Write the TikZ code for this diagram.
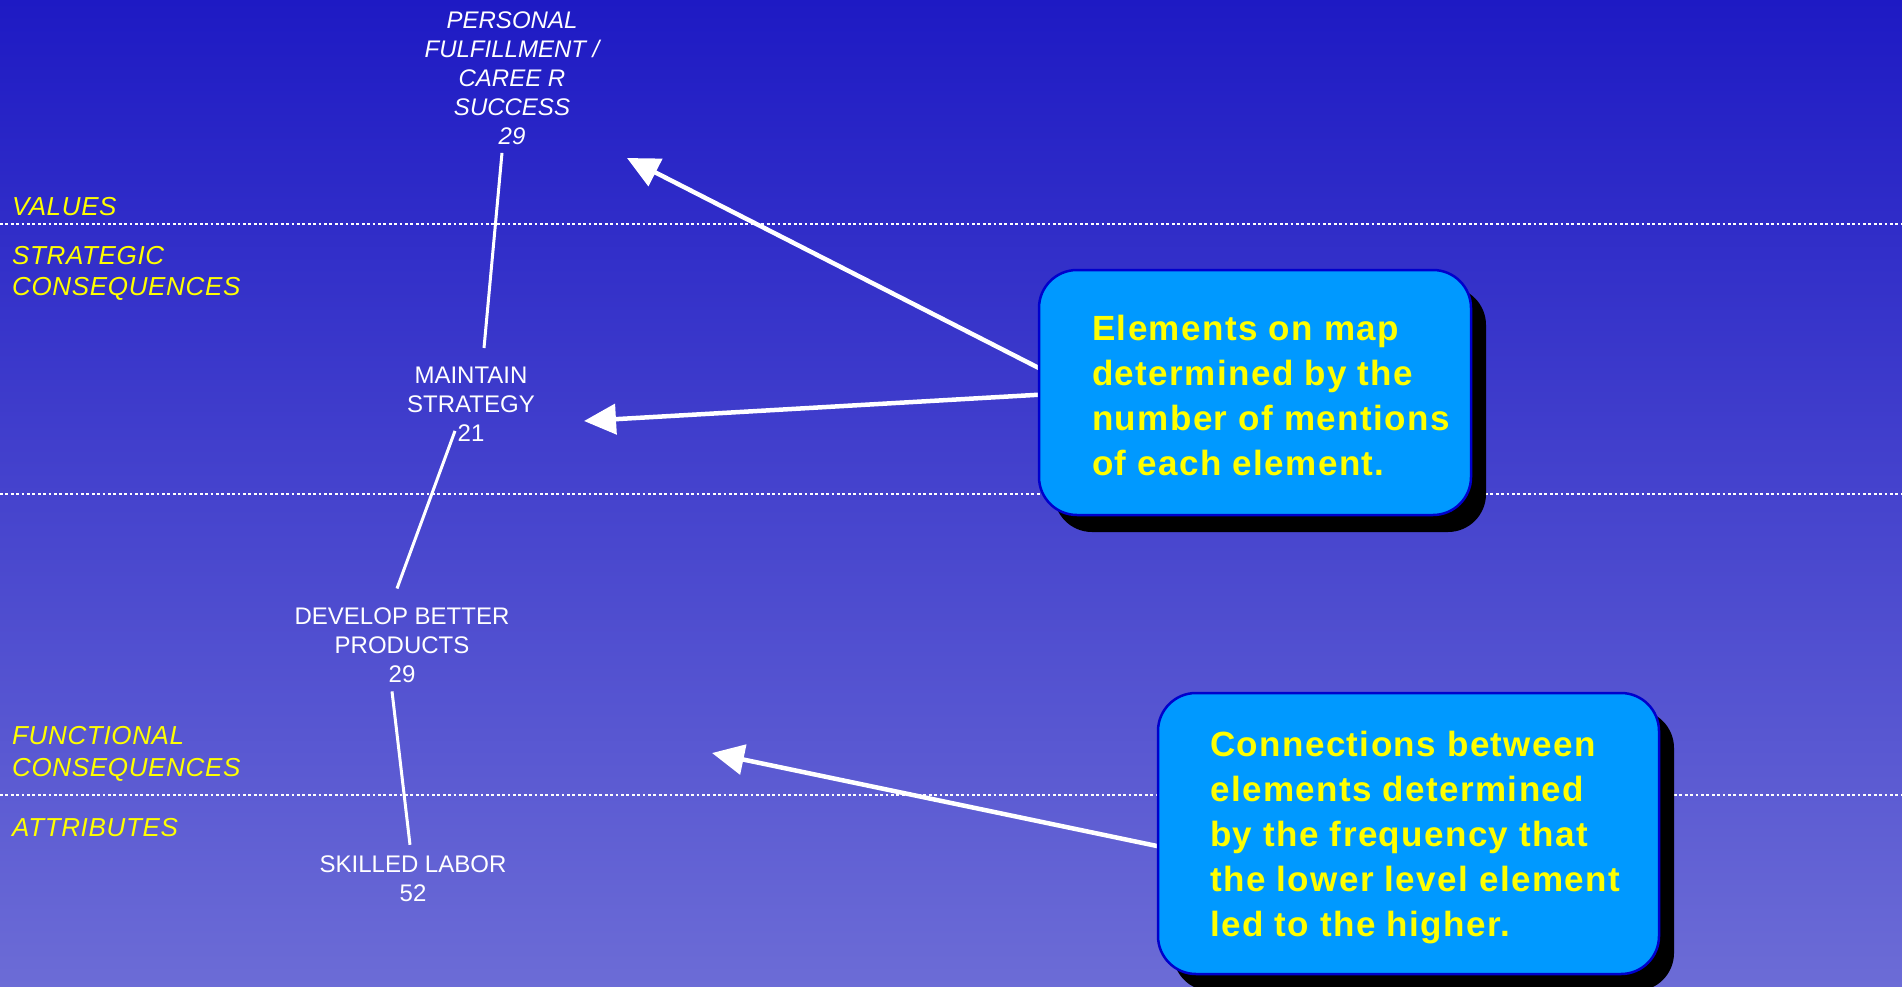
\documentclass[tikz,border=0pt]{standalone}
\usepackage{fontspec}
\setmainfont{Liberation Sans}
\newfontfamily\calloutfont{Liberation Sans}[LetterSpace=4]
\newfontfamily\levelfont{Liberation Sans}[LetterSpace=2.5]
\usetikzlibrary{arrows.meta,shadows}
\definecolor{bgtop}{RGB}{30,26,196}
\definecolor{bgbot}{RGB}{108,108,214}
\definecolor{calloutfill}{RGB}{0,153,255}
\definecolor{calloutedge}{RGB}{0,0,204}
\definecolor{lvlyellow}{RGB}{255,255,0}
\pgfdeclarelayer{bg}
\pgfdeclarelayer{arrowlayer}
\pgfsetlayers{bg,arrowlayer,main}
\begin{document}
\begin{tikzpicture}[x=1pt,y=-1pt,
  concept/.style={align=center, inner sep=0pt, text=white,
    font=\fontsize{24}{29}\selectfont, anchor=north},
  level/.style={align=left, inner sep=0pt, text=lvlyellow,
    font=\levelfont\fontsize{26}{31.5}\selectfont\itshape, anchor=north west},
  link/.style={draw=white, line width=3pt},
  pointer/.style={draw=white, line width=4.5pt,
    -{Triangle[length=32pt,width=30pt]}},
  callout/.style={fill=calloutfill, draw=calloutedge, line width=2.5pt,
    rounded corners=38pt, inner sep=0pt,
    drop shadow={opacity=1, fill=black, shadow xshift=15pt, shadow yshift=-17pt}},
  callouttext/.style={align=left, inner sep=0pt, text=lvlyellow,
    font=\calloutfont\bfseries\fontsize{35}{45}\selectfont, anchor=north west},
  levelline/.style={draw=white, line width=2.7pt, dash pattern=on 2.7pt off 2.7pt}]

% page and background
\useasboundingbox (0,0) rectangle (1902,987);
\begin{pgfonlayer}{bg}
  \shade[top color=bgtop, bottom color=bgbot] (0,0) rectangle (1902,987);
  % level separators
  \draw[levelline] (0,224) -- (1902,224);
  \draw[levelline] (0,494) -- (1902,494);
  \draw[levelline] (0,795) -- (1902,795);
\end{pgfonlayer}

% level labels
\node[level] (values) at (12,197.2) {VALUES};
\node[level] (strategic) at (12,245.7) {STRATEGIC\\CONSEQUENCES};
\node[level] (functional) at (12,726.2) {FUNCTIONAL\\CONSEQUENCES};
\node[level] (attributes) at (12,818.2) {ATTRIBUTES};

% ladder elements
\node[concept, font=\fontsize{24}{29}\selectfont\itshape] (pf) at (512,11.5)
  {PERSONAL\\FULFILLMENT /\\CAREE R\\SUCCESS\\29};
\node[concept] (ms) at (471,367) {MAINTAIN\\STRATEGY\\21};
\node[concept] (db) at (402,607.5) {DEVELOP BETTER\\PRODUCTS\\29};
\node[concept] (sl) at (413,855.8) {SKILLED LABOR\\52};

% ladder links
\draw[link] ([shift={(-10,8)}]pf.south) -- ([shift={(13,-19)}]ms.north);
\draw[link] ([shift={(-16,-11)}]ms.south) -- ([shift={(-5,-19)}]db.north);
\draw[link] ([shift={(-10,8.5)}]db.south) -- ([shift={(-3,-11)}]sl.north);

% callouts
\node[callout, minimum width=432pt, minimum height=245pt] (note1) at (1255,392.5) {};
\node[callouttext] (note1text) at (1092,315)
  {Elements on map\\determined by the\\number of mentions\\of each element.};
\node[callout, minimum width=501pt, minimum height=281pt] (note2) at (1408.5,833.5) {};
\node[callouttext] (note2text) at (1210,731)
  {Connections between\\elements determined\\by the frequency that\\the lower level element\\led to the higher.};

% pointers from the callouts
\coordinate (tipvalues) at (627,158);
\coordinate (tipstrategy) at (584,421);
\coordinate (tipfunctional) at (712,753);
\begin{pgfonlayer}{arrowlayer}
  \draw[pointer] ([shift={(5,-22.5)}]note1.west) -- (tipvalues);
  \draw[pointer] ([shift={(5,2)}]note1.west) -- (tipstrategy);
  \draw[pointer] ([shift={(5,13.5)}]note2.west) -- (tipfunctional);
\end{pgfonlayer}
\end{tikzpicture}
\end{document}
